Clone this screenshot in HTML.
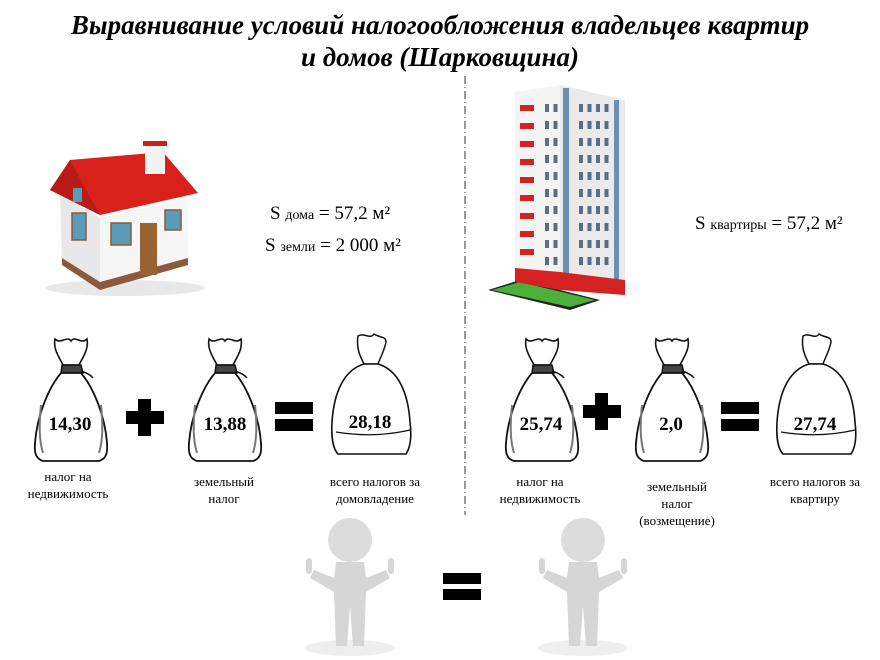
<!DOCTYPE html>
<html><head><meta charset="utf-8"><style>
html,body{margin:0;padding:0;background:#fff;}
svg{display:block;}
text{font-family:"Liberation Serif",serif;}
</style></head><body>
<svg width="880" height="660" viewBox="0 0 880 660" xmlns="http://www.w3.org/2000/svg">
<rect width="880" height="660" fill="#fff"/>
<text x="440" y="34" text-anchor="middle" font-size="27" font-weight="bold" font-style="italic">Выравнивание условий налогообложения владельцев квартир</text>
<text x="440" y="66" text-anchor="middle" font-size="27" font-weight="bold" font-style="italic">и домов (Шарковщина)</text>
<line x1="465" y1="76" x2="465" y2="515" stroke="#333" stroke-width="1" stroke-dasharray="8,3,1,3"/>

<!-- house -->
<g>
<ellipse cx="125" cy="288" rx="80" ry="8" fill="#e8e8e8"/>
<polygon points="60,193 100,218 100,287 62,262" fill="#e8e8ea"/>
<polygon points="100,218 188,198 188,263 100,287" fill="#f6f6f6"/>
<polygon points="62,258 100,282 100,290 62,265" fill="#8a5a3a"/>
<polygon points="100,282 188,258 188,265 100,290" fill="#8a5a3a"/>
<polygon points="50,190 70,160 163,152 198,193 100,215" fill="#d8211a"/>
<polygon points="50,190 70,160 100,215" fill="#b81c16"/>
<rect x="145" y="144" width="20" height="30" fill="#f2f2f2"/>
<rect x="143" y="141" width="24" height="5" fill="#c9231b"/>
<rect x="140" y="223" width="17" height="52" fill="#9a6333"/>
<rect x="111" y="223" width="20" height="22" fill="#5a9bb8" stroke="#8a5a3a" stroke-width="1.5"/>
<rect x="165" y="210" width="16" height="20" fill="#5a9bb8" stroke="#8a5a3a" stroke-width="1.5"/>
<rect x="72" y="213" width="14" height="27" fill="#5a9bb8" stroke="#8a5a3a" stroke-width="1.5"/>
<rect x="73" y="188" width="9" height="14" fill="#5a9bb8"/>
</g>

<!-- building -->
<defs><pattern id="win" width="8.5" height="17" patternUnits="userSpaceOnUse"><rect x="1" y="2" width="4" height="8" fill="#5a6e86"/></pattern></defs>
<g>
<polygon points="488,290 520,280 600,300 570,310" fill="#222"/>
<polygon points="492,290 520,282 595,300 570,307" fill="#4caf3c"/>
<polygon points="515,92 560,85 560,283 515,275" fill="#f4f4f4"/>
<polygon points="560,85 625,100 625,292 560,283" fill="#eaeaea"/>
<rect x="563" y="88" width="6" height="185" fill="#6a8fb5"/>
<rect x="614" y="100" width="5" height="180" fill="#6a8fb5"/>
<polygon points="515,268 560,272 560,290 515,282" fill="#d42222"/>
<polygon points="560,272 625,280 625,295 560,290" fill="#d42222"/>
<g fill="#d42222">
<rect x="520" y="105" width="14" height="6"/><rect x="520" y="123" width="14" height="6"/><rect x="520" y="141" width="14" height="6"/><rect x="520" y="159" width="14" height="6"/><rect x="520" y="177" width="14" height="6"/><rect x="520" y="195" width="14" height="6"/><rect x="520" y="213" width="14" height="6"/><rect x="520" y="231" width="14" height="6"/><rect x="520" y="249" width="14" height="6"/>
</g>
<rect x="575" y="100" width="34" height="170" fill="url(#win)"/>
<rect x="542" y="96" width="17" height="170" fill="url(#win)"/>
</g>

<text x="270" y="219" font-size="19">S <tspan font-size="14">дома</tspan> = 57,2 м²</text>
<text x="265" y="251" font-size="19">S <tspan font-size="14">земли</tspan> = 2 000 м²</text>
<text x="695" y="229" font-size="19">S <tspan font-size="14">квартиры</tspan> = 57,2 м²</text>

<defs>
<g id="bag">
<path d="M24,4 C30,10 36,0 40,6 C44,0 50,10 56,4 C58,14 52,22 48,30 L32,30 C28,22 22,14 24,4 Z" fill="#fff" stroke="#111" stroke-width="1.6"/>
<path d="M31,30 L50,30 L52,38 L30,38 Z" fill="#444" stroke="#111" stroke-width="1.4"/>
<path d="M50,36 C56,38 60,40 62,43" fill="none" stroke="#111" stroke-width="1.5"/>
<path d="M30,38 C18,52 6,80 4,108 C3,120 6,124 12,126 L68,126 C74,124 77,120 76,108 C74,80 62,52 50,38 Z" fill="#fff" stroke="#111" stroke-width="1.8"/>
<path d="M10,70 C8,90 8,105 12,118 M70,70 C72,90 72,105 68,118" fill="none" stroke="#777" stroke-width="2"/>
</g>
<g id="bag2">
<path d="M28,4 C34,0 40,8 44,2 C50,6 56,4 56,10 C54,20 50,26 48,32 L34,32 C30,24 26,16 28,4 Z" fill="#fff" stroke="#111" stroke-width="1.5"/>
<path d="M34,32 C14,38 4,60 2,90 C1,108 4,118 8,122 L76,122 C80,116 82,106 80,90 C78,60 68,38 48,32 Z" fill="#fff" stroke="#111" stroke-width="1.6"/>
<path d="M6,100 C30,104 54,104 80,98" fill="none" stroke="#111" stroke-width="1.2"/>
</g>
<g id="person">
<ellipse cx="0" cy="130" rx="45" ry="8" fill="#eee"/>
<circle cx="0" cy="22" r="22" fill="#dcdcdc"/>
<path d="M-14,44 L14,44 L16,60 L36,52 L40,60 L16,74 L14,128 L3,128 L0,88 L-3,128 L-14,128 L-16,74 L-40,60 L-36,52 L-16,60 Z" fill="#d6d6d6"/>
<rect x="-44" y="40" width="6" height="16" rx="3" fill="#d6d6d6"/>
<rect x="38" y="40" width="6" height="16" rx="3" fill="#d6d6d6"/>
</g>
</defs>

<use href="#bag" x="31" y="335"/>
<use href="#bag" x="185" y="335"/>
<use href="#bag2" x="330" y="332"/>
<use href="#bag" x="502" y="335"/>
<use href="#bag" x="632" y="335"/>
<use href="#bag2" x="775" y="332"/>

<g font-size="19" font-weight="bold" text-anchor="middle">
<text x="70" y="430">14,30</text>
<text x="225" y="430">13,88</text>
<text x="370" y="428">28,18</text>
<text x="541" y="430">25,74</text>
<text x="671" y="430">2,0</text>
<text x="815" y="430">27,74</text>
</g>

<g fill="#000">
<rect x="126" y="411" width="38" height="13"/><rect x="138" y="399" width="13" height="37"/>
<rect x="275" y="402" width="38" height="12"/><rect x="275" y="419" width="38" height="12"/>
<rect x="583" y="405" width="38" height="13"/><rect x="595" y="393" width="13" height="37"/>
<rect x="721" y="402" width="38" height="12"/><rect x="721" y="419" width="38" height="12"/>
<rect x="443" y="573" width="38" height="11"/><rect x="443" y="589" width="38" height="11"/>
</g>

<g font-size="13" text-anchor="middle">
<text x="68" y="481">налог на</text><text x="68" y="498">недвижимость</text>
<text x="224" y="486">земельный</text><text x="224" y="503">налог</text>
<text x="375" y="486">всего налогов за</text><text x="375" y="503">домовладение</text>
<text x="540" y="486">налог на</text><text x="540" y="503">недвижимость</text>
<text x="677" y="491">земельный</text><text x="677" y="508">налог</text><text x="677" y="525">(возмещение)</text>
<text x="815" y="486">всего налогов за</text><text x="815" y="503">квартиру</text>
</g>

<use href="#person" x="350" y="518"/>
<use href="#person" x="583" y="518"/>
</svg>
</body></html>
